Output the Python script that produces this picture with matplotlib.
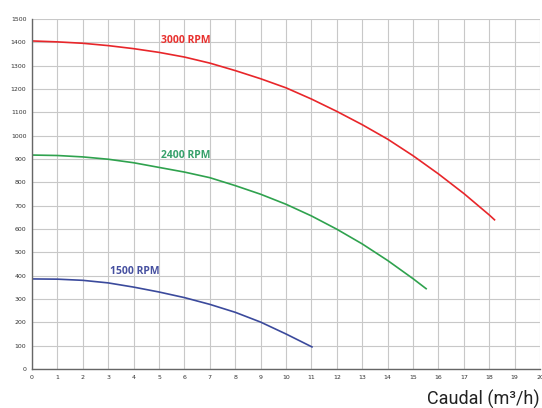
import matplotlib.pyplot as plt

# caudal (m3/h) vs altura
q_3000 = [0, 1, 2, 3, 4, 5, 6, 7, 8, 9, 10, 11, 12, 13, 14, 15, 16, 17, 18, 18.23]
h_3000 = [1406, 1402, 1396, 1386, 1373, 1357, 1337, 1311, 1279, 1244, 1205, 1157, 1104,
          1047, 985, 914, 836, 752, 660, 637]

q_2400 = [0, 1, 2, 3, 4, 5, 6, 7, 8, 9, 10, 11, 12, 13, 14, 15, 15.54]
h_2400 = [917, 915, 909, 899, 884, 864, 844, 820, 786, 749, 706, 656, 599, 536, 465, 387, 342]

q_1500 = [0, 1, 2, 3, 4, 5, 6, 7, 8, 9, 10, 11.05]
h_1500 = [386, 385, 380, 369, 351, 330, 306, 277, 243, 201, 150, 93]

series = [
    (q_3000, h_3000, "#e8262a", "#e8302e", "3000 RPM", (6.05, 1410)),
    (q_2400, h_2400, "#2fa24e", "#36a06a", "2400 RPM", (6.05, 913)),
    (q_1500, h_1500, "#3b4a9c", "#4650a0", "1500 RPM", (4.05, 416)),
]

fig = plt.figure(figsize=(5.42, 4.08), dpi=100)
ax = fig.add_axes([0.059, 0.0956, 0.9375, 0.8578])

for q, h, color, tcolor, label, (tx, ty) in series:
    ax.plot(q, h, color=color, linewidth=1.2, solid_capstyle="butt")
    ax.text(tx, ty, label, color=tcolor, fontsize=7.5, fontweight="bold",
            family="Open Sans", ha="center", va="center")

ax.set_xlim(0, 20)
ax.set_ylim(0, 1500)
ax.set_xticks(range(0, 21))
ax.set_yticks(range(0, 1501, 100))
ax.grid(True, color="#c8c8c8", linewidth=0.8)
ax.set_axisbelow(True)
ax.tick_params(length=0, labelsize=4.5, labelcolor="#333333", pad=4)
for side in ("top", "right"):
    ax.spines[side].set_visible(False)
for side in ("left", "bottom"):
    ax.spines[side].set_color("#666666")
    ax.spines[side].set_linewidth(1.0)

fig.text(0.995, 0.008, "Caudal (m³/h)", ha="right", va="baseline",
         fontsize=13, family="Roboto", color="#222222")

fig.savefig("out.png", dpi=100)
